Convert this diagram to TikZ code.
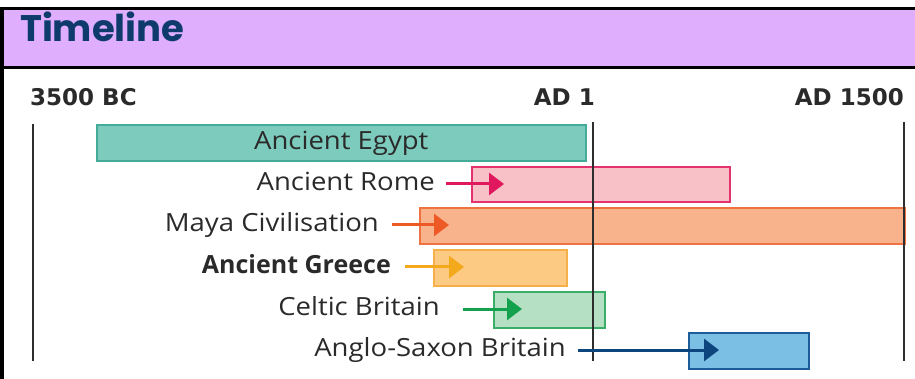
\documentclass[tikz,border=0pt]{standalone}
\usepackage{fontspec}
\setmainfont[FakeStretch=1.1]{Open Sans}
\newfontfamily\boldlbl{Open Sans}
\newfontfamily\headfont{DejaVu Sans}
\newfontfamily\titlefont{Poppins}
\usetikzlibrary{arrows.meta}
\definecolor{hdrpurple}{HTML}{DFAEFD}
\definecolor{titleblue}{HTML}{0E3A6C}
\definecolor{txt}{HTML}{2A2A2A}
\definecolor{axisgray}{HTML}{2E2E2E}
\definecolor{egyptfill}{HTML}{7DCBBD}\definecolor{egyptline}{HTML}{44AB98}
\definecolor{romefill}{HTML}{F8C1C8}\definecolor{romeline}{HTML}{E2336E}\definecolor{romearrow}{HTML}{E0185E}
\definecolor{mayafill}{HTML}{F8B28C}\definecolor{mayaline}{HTML}{EF7340}\definecolor{mayaarrow}{HTML}{EE5A25}
\definecolor{greecefill}{HTML}{FCCA82}\definecolor{greeceline}{HTML}{F6B04A}\definecolor{greecearrow}{HTML}{F4A91D}
\definecolor{celticfill}{HTML}{B6E0C3}\definecolor{celticline}{HTML}{3AAE68}\definecolor{celticarrow}{HTML}{14A14E}
\definecolor{anglofill}{HTML}{7BBFE4}\definecolor{angloline}{HTML}{1D5C99}\definecolor{angloarrow}{HTML}{0D457F}
\begin{document}
\begin{tikzpicture}[x=1pt,y=-1pt,
  bar/.style={draw, line width=1.6pt, anchor=north west, inner sep=0pt},
  lbl/.style={anchor=east, inner sep=0pt, text=txt, font=\fontsize{25}{28}\selectfont, text height=18pt, text depth=5pt},
  era/.style={inner sep=0pt, text=txt, font=\headfont\bfseries\fontsize{23}{26}\selectfont},
  axis/.style={draw=axisgray, line width=2pt},
  pointer/.style={line width=3pt, -{Triangle[length=15pt,width=22pt]}}]
\useasboundingbox (0,0) rectangle (915,379);
% header
\fill[hdrpurple] (0,10) rectangle (915,66);
\draw[line width=3pt] (0,8.5) -- (915,8.5);
\draw[line width=3pt] (0,67.5) -- (915,67.5);
\draw[line width=4pt] (2,7) -- (2,379);
\node (title) [anchor=base west, inner sep=0pt, text=titleblue, font=\titlefont\bfseries\fontsize{37}{40}\selectfont] at (20,42) {Timeline};
% era labels
\node (bc) [era, anchor=west] at (30,97) {3500 BC};
\node (ad1) [era, anchor=east] at (595,97) {AD 1};
\node (ad1500) [era, anchor=east] at (904,97) {AD 1500};
% bars
\node (egypt) [bar, fill=egyptfill, draw=egyptline, minimum width=489pt, minimum height=36pt, text=txt, font=\fontsize{25}{28}\selectfont] at (96,124.5) {Ancient Egypt};
\node (rome) [bar, fill=romefill, draw=romeline, minimum width=258pt, minimum height=35pt] at (471,166) {};
\node (maya) [bar, fill=mayafill, draw=mayaline, minimum width=485pt, minimum height=36pt] at (419,207) {};
\node (greece) [bar, fill=greecefill, draw=greeceline, minimum width=133pt, minimum height=36pt] at (433,249) {};
\node (celtic) [bar, fill=celticfill, draw=celticline, minimum width=111pt, minimum height=36pt] at (493,291) {};
\node (anglo) [bar, fill=anglofill, draw=angloline, minimum width=120pt, minimum height=36pt] at (688,332) {};
% axis lines
\coordinate (l1) at (33,124); \coordinate (l2) at (33,361);
\coordinate (m1) at (593,122); \coordinate (m2) at (593,361);
\coordinate (r1) at (904,122); \coordinate (r2) at (904,361);
\draw[axis] (l1) -- (l2);
\draw[axis] (m1) -- (m2);
\draw[axis] (r1) -- (r2);
% labels
\node (romel) [lbl] at (435,184) {Ancient Rome};
\node (mayal) [lbl] at (379,225) {Maya Civilisation};
\node (greecel) [lbl, font=\boldlbl\bfseries\fontsize{25}{28}\selectfont] at (391,267) {Ancient Greece};
\node (celticl) [lbl] at (440,309) {Celtic Britain};
\node (anglol) [lbl] at (566,350) {Anglo-Saxon Britain};
% arrows
\coordinate (romee) at (504,184);
\coordinate (mayae) at (449,225);
\coordinate (greecee) at (464,267);
\coordinate (celtice) at (522,309);
\coordinate (angloe) at (719,350);
\draw[pointer, romearrow] ([xshift=11pt]romel.east) -- (romee);
\draw[pointer, mayaarrow] ([xshift=13pt]mayal.east) -- (mayae);
\draw[pointer, greecearrow] ([xshift=14pt]greecel.east) -- (greecee);
\draw[pointer, celticarrow] ([xshift=23pt]celticl.east) -- (celtice);
\draw[pointer, angloarrow] ([xshift=12pt]anglol.east) -- (angloe);
\end{tikzpicture}
\end{document}
